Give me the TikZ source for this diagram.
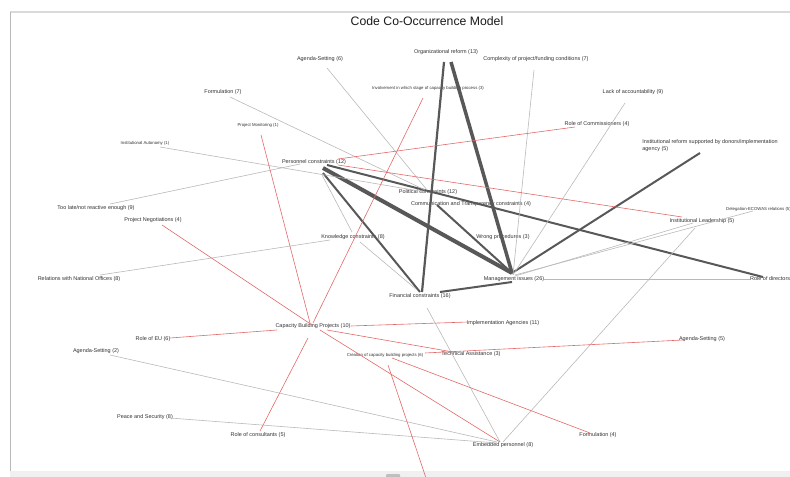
\documentclass[tikz,border=0pt]{standalone}
\usepackage{fontspec}
\setmainfont{Liberation Sans}
\usetikzlibrary{positioning}
\definecolor{edgegray}{RGB}{185,185,185}
\definecolor{edgered}{RGB}{228,105,105}
\definecolor{edgedark}{RGB}{88,88,88}
\definecolor{labeltext}{RGB}{50,50,50}
\definecolor{framegray}{RGB}{218,218,218}

\begin{document}
\begin{tikzpicture}[x=1bp, y=-1bp,
  lbl/.style={font=\fontsize{5.5}{7}\selectfont, text=labeltext, inner sep=0pt},
  tinylbl/.style={font=\fontsize{4.3}{5}\selectfont, text=labeltext, inner sep=0pt},
  grayedge/.style={draw=edgegray, line width=0.6bp},
  rededge/.style={draw=edgered, line width=0.6bp},
  darkedge/.style={draw=edgedark, line width=2bp},
]
  \useasboundingbox (0,0) rectangle (790,477);
  \clip (0,0) rectangle (790,477);

  % frame of the viewer
  \draw[framegray, line width=1.5bp] (10,12) -- (790,12);
  \draw[black!28, line width=0.8bp] (10,12) -- (10,471);
  \fill[black!6] (10,471) rectangle (790,477);
  \fill[black!25, rounded corners=1bp] (386,474) rectangle (400,478);

  \node[font=\fontsize{12.3}{14}\selectfont, text=black!90] (title) at (427,21) {Code Co-Occurrence Model};

  % codes
  \node[lbl] (org) at (446,52) {Organizational reform (13)};
  \node[lbl] (complex) at (536,59) {Complexity of project/funding conditions (7)};
  \node[lbl] (agendasix) at (320,59) {Agenda-Setting (6)};
  \node[tinylbl] (involv) at (428,88) {Involvement in which stage of capacity building process (3)};
  \node[lbl] (formulseven) at (223,92) {Formulation (7)};
  \node[lbl] (lack) at (633,92) {Lack of accountability (9)};
  \node[tinylbl] (projmon) at (258,125) {Project Monitoring (1)};
  \node[lbl] (commis) at (597,124) {Role of Commissioners (4)};
  \node[tinylbl] (instaut) at (145,143) {Institutional Autonomy (1)};
  \node[lbl, align=left] (instref) at (710,146) {Institutional reform supported by donors/implementation\\agency (5)};
  \node[lbl] (pers) at (314,162) {Personnel constraints (12)};
  \node[lbl] (pol) at (428,192) {Political constraints (12)};
  \node[lbl] (comm) at (471,204) {Communication and Transparency constraints (4)};
  \node[lbl] (toolate) at (96,208) {Too late/not reactive enough (9)};
  \node[tinylbl, anchor=west] (deleg) at (726,209) {Delegation-ECOWAS relations (5)};
  \node[lbl] (projneg) at (153,220) {Project Negotiations (4)};
  \node[lbl] (instlead) at (702,221) {Institutional Leadership (5)};
  \node[lbl] (know) at (353,237) {Knowledge constraints (8)};
  \node[lbl] (wrong) at (503,237) {Wrong procedures (3)};
  \node[lbl] (relnat) at (79,279) {Relations with National Offices (8)};
  \node[lbl] (mgmt) at (514,279) {Management issues (26)};
  \node[lbl, anchor=west] (roledir) at (750,279) {Role of directors};
  \node[lbl] (fin) at (420,296) {Financial constraints (16)};
  \node[lbl] (impl) at (503,323) {Implementation Agencies (11)};
  \node[lbl] (cbp) at (313,326) {Capacity Building Projects (10)};
  \node[lbl] (roleeu) at (153,339) {Role of EU (6)};
  \node[lbl] (agendafive) at (702,339) {Agenda-Setting (5)};
  \node[lbl] (agendatwo) at (96,351) {Agenda-Setting (2)};
  \node[tinylbl] (creation) at (385,355) {Creation of capacity building projects (6)};
  \node[lbl] (techass) at (471,354) {Technical Assistance (3)};
  \node[lbl] (peace) at (145,417) {Peace and Security (8)};
  \node[lbl] (roleconsult) at (258,435) {Role of consultants (5)};
  \node[lbl] (formulfour) at (598,435) {Formulation (4)};
  \node[lbl] (embed) at (503,445) {Embedded personnel (8)};
  \coordinate (belowview) at (428,484);

  % strong co-occurrences
  \draw[darkedge, line width=2.2bp] ([shift={(-2,10)}]org.center) -- ([shift={(2,-4)}]fin.center);
  \draw[darkedge, line width=3.5bp] ([shift={(5,10)}]org.center) -- ([shift={(-2,-6)}]mgmt.center);
  \draw[darkedge, line width=4bp] ([shift={(9,6)}]pers.center) -- ([shift={(-2,-6)}]mgmt.center);
  \draw[darkedge] ([shift={(13,3)}]pers.center) -- ([shift={(13,-2)}]roledir.west);
  \draw[darkedge] ([shift={(9,11)}]pers.center) -- ([shift={(0,-4)}]fin.center);
  \draw[darkedge] ([shift={(-34,1)}]comm.center) -- ([shift={(-2,-6)}]mgmt.center);
  \draw[darkedge] ([shift={(-10,7)}]instref.center) -- ([shift={(-2,-6)}]mgmt.center);
  \draw[darkedge] ([shift={(-2,3)}]mgmt.center) -- ([shift={(20,-4)}]fin.center);

  % weak co-occurrences
  \draw[grayedge] ([shift={(8,13)}]pers.center) -- ([shift={(-1,-5)}]know.center);
  \draw[grayedge] ([shift={(7,5)}]know.center) -- ([shift={(-3,-6)}]fin.center);
  \draw[grayedge] ([shift={(21,-4)}]relnat.center) -- ([shift={(-23,3)}]know.center);
  \draw[grayedge] ([shift={(14,-4)}]toolate.center) -- ([shift={(-14,2)}]pers.center);
  \draw[grayedge] ([shift={(15,4)}]instaut.center) -- ([shift={(-3,0)}]pol.center);
  \draw[grayedge] ([shift={(7,5)}]formulseven.center) -- ([shift={(-3,-2)}]pol.center);
  \draw[grayedge] ([shift={(7,9)}]agendasix.center) -- ([shift={(-1,-2)}]pol.center);
  \draw[grayedge] ([shift={(-2,11)}]complex.center) -- ([shift={(-1,-4)}]mgmt.center);
  \draw[grayedge] ([shift={(-8,11)}]lack.center) -- ([shift={(-1,-4)}]mgmt.center);
  \draw[grayedge] ([shift={(27,2)}]deleg.west) -- ([shift={(1,-4)}]mgmt.center);
  \draw[grayedge] ([shift={(-9,2)}]instlead.center) -- ([shift={(1,-3)}]mgmt.center);
  \draw[grayedge] ([shift={(-7,7)}]instlead.center) -- ([shift={(0,-3)}]embed.center);
  \draw[grayedge] (mgmt.east) -- (roledir.west);
  \draw[grayedge] ([shift={(7,12)}]fin.center) -- ([shift={(-3,-3)}]embed.center);
  \draw[grayedge] ([shift={(14,4)}]agendatwo.center) -- ([shift={(-6,-3)}]embed.center);
  \draw[grayedge] ([shift={(25,1)}]peace.center) -- ([shift={(-6,-2)}]embed.center);

  % capacity building links
  \draw[rededge] ([shift={(24,3)}]pers.center) -- ([shift={(-20,-4)}]instlead.center);
  \draw[rededge] ([shift={(-22,3)}]commis.center) -- ([shift={(24,-3)}]pers.center);
  \draw[rededge] ([shift={(-5,10)}]involv.center) -- ([shift={(0,-3)}]cbp.center);
  \draw[rededge] ([shift={(3,10)}]projmon.center) -- ([shift={(-3,-3)}]cbp.center);
  \draw[rededge] ([shift={(9,5)}]projneg.center) -- ([shift={(-1,-1)}]cbp.center);
  \draw[rededge] ([shift={(17,-1)}]roleeu.center) -- ([shift={(-36,4)}]cbp.center);
  \draw[rededge] (cbp.east) -- ([shift={(-35,-1)}]impl.center);
  \draw[rededge] ([shift={(14,4)}]cbp.center) -- ([shift={(-18,-2)}]techass.center);
  \draw[rededge] ([shift={(7,4)}]cbp.center) -- ([shift={(-3,-3)}]embed.center);
  \draw[rededge] ([shift={(2,-4)}]roleconsult.center) -- ([shift={(-5,12)}]cbp.center);
  \draw[rededge] ([shift={(-19,1)}]agendafive.center) -- ([shift={(40,-2)}]creation.center);
  \draw[rededge] ([shift={(-8,-2)}]formulfour.center) -- ([shift={(7,3)}]creation.center);
  \draw[rededge] ([shift={(3,10)}]creation.center) -- (belowview);
\end{tikzpicture}
\end{document}
